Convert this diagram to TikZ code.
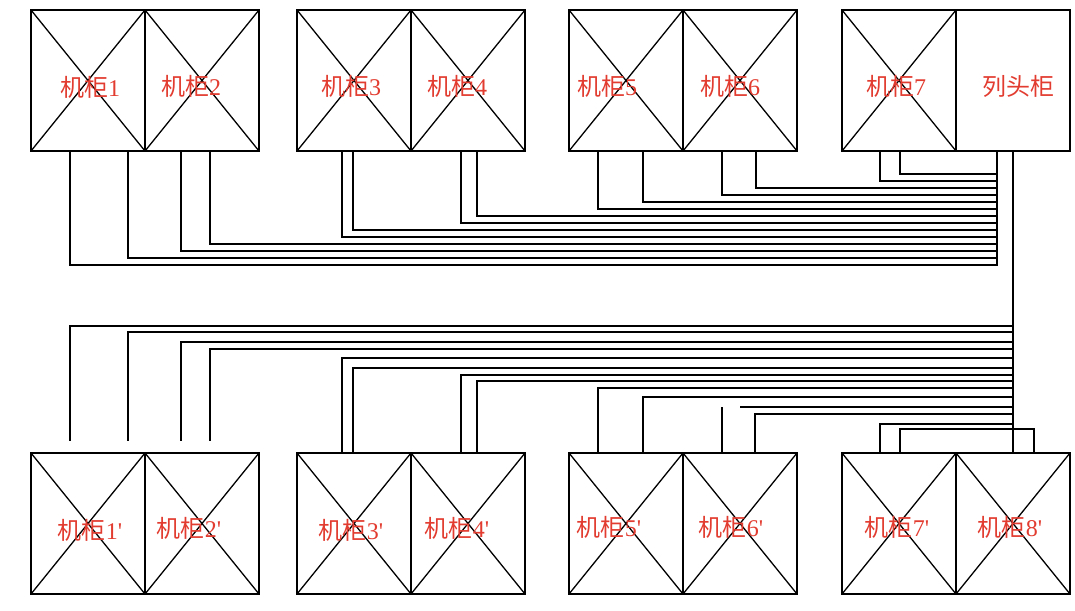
\documentclass[tikz,border=0pt]{standalone}
\usepackage{fontspec}
\setmainfont{Liberation Serif}
\newfontfamily\cjk{Noto Sans CJK SC}
\definecolor{lbl}{RGB}{226,60,48}
\begin{document}
\begin{tikzpicture}[x=1pt,y=-1pt,line width=1.3pt,
  cab/.style={draw,line width=1.5pt,minimum width=114pt,minimum height=141pt,inner sep=0pt,outer sep=0pt},
  tag/.style={text=lbl,font=\fontsize{24}{24}\selectfont,inner sep=0pt},
  bus/.style={line width=2.8pt}]
  \useasboundingbox (0,0) rectangle (1075,610);
  % top row
  \node[cab] (c1) at (88,80.5) {};
  \node[cab] (c2) at (202,80.5) {};
  \node[cab] (c3) at (354,80.5) {};
  \node[cab] (c4) at (468,80.5) {};
  \node[cab] (c5) at (626,80.5) {};
  \node[cab] (c6) at (740,80.5) {};
  \node[cab] (c7) at (899,80.5) {};
  \node[cab] (h) at (1013,80.5) {};
  \draw (c1.north west) -- (c1.south east) (c1.north east) -- (c1.south west);
  \draw (c2.north west) -- (c2.south east) (c2.north east) -- (c2.south west);
  \draw (c3.north west) -- (c3.south east) (c3.north east) -- (c3.south west);
  \draw (c4.north west) -- (c4.south east) (c4.north east) -- (c4.south west);
  \draw (c5.north west) -- (c5.south east) (c5.north east) -- (c5.south west);
  \draw (c6.north west) -- (c6.south east) (c6.north east) -- (c6.south west);
  \draw (c7.north west) -- (c7.south east) (c7.north east) -- (c7.south west);
  \node (t1) at (90,87) [tag] {{\cjk 机柜}1};
  \node (t2) at (191,86) [tag] {{\cjk 机柜}2};
  \node (t3) at (351,86) [tag] {{\cjk 机柜}3};
  \node (t4) at (457,86) [tag] {{\cjk 机柜}4};
  \node (t5) at (607,86) [tag] {{\cjk 机柜}5};
  \node (t6) at (730,86) [tag] {{\cjk 机柜}6};
  \node (t7) at (896,86) [tag] {{\cjk 机柜}7};
  \node (th) at (1018,86) [tag] {\cjk 列头柜};
  % bottom row
  \node[cab] (c1') at (88,523.5) {};
  \node[cab] (c2') at (202,523.5) {};
  \node[cab] (c3') at (354,523.5) {};
  \node[cab] (c4') at (468,523.5) {};
  \node[cab] (c5') at (626,523.5) {};
  \node[cab] (c6') at (740,523.5) {};
  \node[cab] (c7') at (899,523.5) {};
  \node[cab] (c8') at (1013,523.5) {};
  \draw (c1'.north west) -- (c1'.south east) (c1'.north east) -- (c1'.south west);
  \draw (c2'.north west) -- (c2'.south east) (c2'.north east) -- (c2'.south west);
  \draw (c3'.north west) -- (c3'.south east) (c3'.north east) -- (c3'.south west);
  \draw (c4'.north west) -- (c4'.south east) (c4'.north east) -- (c4'.south west);
  \draw (c5'.north west) -- (c5'.south east) (c5'.north east) -- (c5'.south west);
  \draw (c6'.north west) -- (c6'.south east) (c6'.north east) -- (c6'.south west);
  \draw (c7'.north west) -- (c7'.south east) (c7'.north east) -- (c7'.south west);
  \draw (c8'.north west) -- (c8'.south east) (c8'.north east) -- (c8'.south west);
  \node (b1) at (90,530) [tag] {{\cjk 机柜}1\textquotesingle};
  \node (b2) at (189,528) [tag] {{\cjk 机柜}2\textquotesingle};
  \node (b3) at (351,530) [tag] {{\cjk 机柜}3\textquotesingle};
  \node (b4) at (457,528) [tag] {{\cjk 机柜}4\textquotesingle};
  \node (b5) at (609,527) [tag] {{\cjk 机柜}5\textquotesingle};
  \node (b6) at (731,527) [tag] {{\cjk 机柜}6\textquotesingle};
  \node (b7) at (897,527) [tag] {{\cjk 机柜}7\textquotesingle};
  \node (b8) at (1010,527) [tag] {{\cjk 机柜}8\textquotesingle};
  % upper bus
  \coordinate (busA) at (997,266);
  \draw[bus] (h.south -| busA) -- (busA);
  \draw (c7.south -| 900,0) |- (busA |- 0,174);
  \draw (c7.south -| 880,0) |- (busA |- 0,181);
  \draw (c6.south -| 756,0) |- (busA |- 0,188);
  \draw (c6.south -| 722,0) |- (busA |- 0,195);
  \draw (c5.south -| 643,0) |- (busA |- 0,202);
  \draw (c5.south -| 598,0) |- (busA |- 0,209);
  \draw (c4.south -| 477,0) |- (busA |- 0,216);
  \draw (c4.south -| 461,0) |- (busA |- 0,223);
  \draw (c3.south -| 353,0) |- (busA |- 0,230);
  \draw (c3.south -| 342,0) |- (busA |- 0,237);
  \draw (c2.south -| 210,0) |- (busA |- 0,244);
  \draw (c2.south -| 181,0) |- (busA |- 0,251);
  \draw (c1.south -| 128,0) |- (busA |- 0,258);
  \draw (c1.south -| 70,0) |- (busA |- 0,265);
  % lower bus
  \draw[bus] (h.south) -- (c8'.north);
  \draw[shorten >=12pt] (h.south |- 0,326) -| (c1'.north -| 70,0);
  \draw[shorten >=12pt] (h.south |- 0,332) -| (c1'.north -| 128,0);
  \draw[shorten >=12pt] (h.south |- 0,342) -| (c2'.north -| 181,0);
  \draw[shorten >=12pt] (h.south |- 0,349) -| (c2'.north -| 210,0);
  \draw (h.south |- 0,358) -| (c3'.north -| 342,0);
  \draw (h.south |- 0,368) -| (c3'.north -| 353,0);
  \draw (h.south |- 0,375) -| (c4'.north -| 461,0);
  \draw (h.south |- 0,381) -| (c4'.north -| 477,0);
  \draw (h.south |- 0,388) -| (c5'.north -| 598,0);
  \draw (h.south |- 0,397) -| (c5'.north -| 643,0);
  \draw (h.south |- 0,407) -- ++(-273,0);
  \draw (c6'.north -| 722,0) -- ++(0,-46);
  \draw (h.south |- 0,414) -| (c6'.north -| 755,0);
  \draw (h.south |- 0,424) -| (c7'.north -| 880,0);
  \draw (c7'.north -| 900,0) -- ++(0,-24) -| (c8'.north -| 1034,0);
\end{tikzpicture}
\end{document}
